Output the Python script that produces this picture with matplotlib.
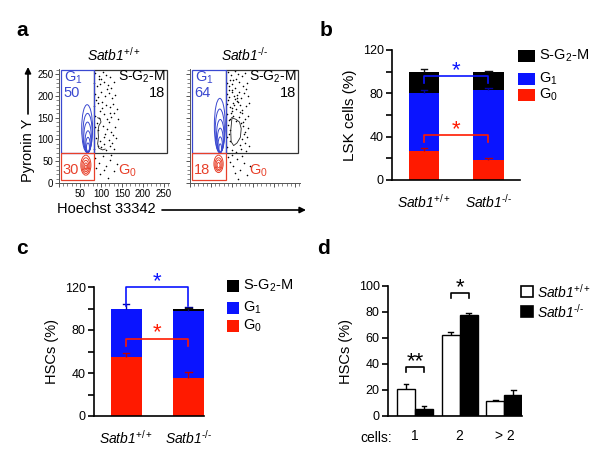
import matplotlib
matplotlib.use('Agg')
import matplotlib.pyplot as plt
from matplotlib.patches import Ellipse, Rectangle
import numpy as np

plt.rcParams['font.family'] = ['Liberation Sans', 'DejaVu Sans']
plt.rcParams['mathtext.fontset'] = 'custom'
plt.rcParams['mathtext.rm'] = 'Liberation Sans'
plt.rcParams['mathtext.it'] = 'Liberation Sans:italic'
plt.rcParams['mathtext.bf'] = 'Liberation Sans:bold'

# ------------------------------------------------------------------ data
genotypes = ['Satb1$^{\\mathit{+/+}}$', 'Satb1$^{\\mathit{\u2010/\u2010}}$']

# panel a: gate percentages per genotype
a_g1_pct = ['50', '64']
a_s_pct = ['18', '18']
a_g0_pct = ['30', '18']
# gate boundaries (Hoechst x, Pyronin y)
gate_xlo = [5, 5]
gate_xmid = [83, 86]
gate_xhi = [257, 257]
gate_ylo = [8, 8]
gate_ymid = [69, 70]
gate_yhi = [259, 259]

# contour levels (ellipses) : centre x, centre y, width, height
blue_cx = [[67, 68, 68, 69, 69, 69], [71, 71, 72, 72, 72, 72]]
blue_cy = [[125, 115, 105, 95, 88, 82], [132, 120, 108, 98, 88, 80]]
blue_w = [[26, 22, 18, 14, 10, 7], [26, 22, 18, 14, 10, 6]]
blue_h = [[110, 90, 70, 50, 34, 20], [125, 100, 76, 56, 36, 20]]
red_cx = [[64, 64, 64, 64, 64], [68, 68, 68, 68]]
red_cy = [[41, 40, 39, 38, 37], [44, 43, 42, 41]]
red_w = [[24, 19, 14, 9, 5], [22, 17, 12, 7]]
red_h = [[46, 36, 26, 16, 8], [40, 30, 22, 12]]

# black density contour traces
blk_x = [[92, 98, 100, 95, 93, 94, 92, 95, 104, 110],
         [100, 110, 118, 122, 120, 112, 104, 98, 97, 100]]
blk_y = [[150, 148, 140, 132, 120, 105, 90, 80, 76, 78],
         [150, 146, 140, 125, 105, 92, 86, 95, 120, 150]]

# individual events (read approximately)
dots_wt_x = [86, 95, 104, 112, 121, 99, 83, 90, 97, 108, 116, 125, 130,
             85, 92, 101, 110, 118, 127, 134, 88, 84, 94, 103, 112, 121, 129,
             137, 98, 86, 95, 106, 114, 123, 131, 140, 85, 93, 104, 115, 124,
             133, 109, 87, 97, 108, 118, 127, 136, 92, 84, 99, 113, 122, 131,
             86, 95, 104, 112, 121, 130, 98, 117, 108, 138, 89, 125,
             102, 119, 91, 128, 106, 114, 96, 122]
dots_wt_y = [252, 246, 255, 249, 243, 238, 230, 222, 228, 233, 226, 219, 231,
             205, 198, 210, 201, 206, 196, 203, 190, 178, 183, 172, 180, 174, 182,
             170, 165, 155, 149, 158, 146, 152, 160, 148, 128, 121, 131, 124, 118,
             129, 112, 103, 96, 106, 99, 92, 104, 86, 78, 82, 75, 84, 77,
             58, 45, 62, 38, 52, 28, 20, 12, 30, 44, 34, 65,
             187, 140, 138, 111, 90, 215, 240, 162]
dots_ko_x = [90, 98, 106, 115, 124, 95, 110, 132,
             88, 93, 101, 108, 117, 126, 134, 99,
             87, 94, 100, 107, 113, 121, 129, 137, 104, 91,
             88, 96, 103, 110, 118, 125, 133, 140, 99, 114,
             89, 95, 103, 109, 116, 124, 131, 138, 127,
             90, 96, 126, 131, 137, 93, 128,
             89, 96, 124, 130, 136, 119,
             88, 100, 110, 121, 133, 141,
             90, 96, 103, 112, 120, 128, 135, 108, 99, 124, 143, 115,
             92, 102, 111, 119, 105, 97, 122, 135, 113, 101, 94, 117]
dots_ko_y = [255, 248, 257, 250, 245, 236, 240, 252,
             230, 222, 228, 219, 232, 224, 216, 214,
             205, 197, 209, 192, 202, 196, 207, 199, 200, 190,
             182, 175, 185, 170, 179, 168, 176, 183, 166, 186,
             158, 147, 155, 143, 152, 160, 146, 155, 141,
             133, 121, 130, 118, 126, 112, 112,
             105, 97, 100, 92, 106, 88,
             82, 76, 72, 79, 74, 85,
             60, 48, 38, 55, 30, 46, 18, 22, 64, 62, 40, 10,
             213, 236, 188, 164, 180, 162, 138, 230, 196, 172, 144, 210]

# panel b : LSK cells (%)
b_g0 = [27, 18.5]
b_g1 = [53, 64.5]
b_s = [20, 17]
b_g0_err = [2.5, 2.0]
b_g1_err = [3.0, 1.5]
b_s_err = [2.5, 1.0]

# panel c : HSCs (%)
c_g0 = [55, 35]
c_g1 = [44.5, 62.5]
c_s = [0.0, 1.8]
c_g0_err = [4.0, 6.0]
c_g1_err = [4.5, 4.0]
c_s_err = [0.0, 1.5]

# panel d : HSCs (%) by number of daughter cells
cells = ['1', '2', '> 2']
d_wt = [20.5, 62, 11.5]
d_wt_err = [4.0, 3.0, 0.5]
d_ko = [5.4, 77.7, 16]
d_ko_err = [2.5, 1.5, 4.0]

# ------------------------------------------------------------------ style
BLUE = '#0a14ff'
RED = '#ff1a00'
GBLUE = '#3a48d0'
GRED = '#e8402a'

W, H = 600, 466
fig = plt.figure(figsize=(6, 4.66), dpi=100)


def add_ax(x0, y0, x1, y1, **kw):
    return fig.add_axes([x0 / W, 1 - y1 / H, (x1 - x0) / W, (y1 - y0) / H], **kw)


ov = fig.add_axes([0, 0, 1, 1], zorder=10)
ov.set_xlim(0, W)
ov.set_ylim(H, 0)
ov.axis('off')
ov.patch.set_alpha(0)

# ------------------------------------------------------------------ panel a
flow_boxes = [(59, 69, 169, 183), (190, 69, 300, 183)]
dots_x = [dots_wt_x, dots_ko_x]
dots_y = [dots_wt_y, dots_ko_y]
for i, box in enumerate(flow_boxes):
    ax = add_ax(*box)
    ax.set_xlim(0, 262)
    ax.set_ylim(0, 262)
    for s in ['top', 'right']:
        ax.spines[s].set_visible(False)
    for s in ['left', 'bottom']:
        ax.spines[s].set_color('#555555')
        ax.spines[s].set_linewidth(0.7)
    ax.set_xticks(np.arange(0, 251, 50))
    ax.set_yticks(np.arange(0, 251, 50))
    ax.set_xticks(np.arange(0, 261, 10), minor=True)
    ax.set_yticks(np.arange(0, 261, 10), minor=True)
    ax.tick_params(which='major', length=3, width=0.7, color='#555555',
                   labelsize=7, pad=1)
    ax.tick_params(which='minor', length=2, width=0.5, color='#555555')
    if i == 0:
        ax.set_xticklabels(['', '50', '100', '150', '200', '250'])
        ax.set_yticklabels(['0', '50', '100', '150', '200', '250'])
    else:
        ax.set_xticklabels([])
        ax.set_yticklabels([])
    ax.patch.set_alpha(0)

    ax.scatter(dots_x[i], dots_y[i], s=1.3, c='k', linewidths=0)
    ax.plot(blk_x[i], blk_y[i], color='#222222', lw=0.6)
    for cx, cy, w, h in zip(blue_cx[i], blue_cy[i], blue_w[i], blue_h[i]):
        ax.add_patch(Ellipse((cx, cy), w, h, fill=False, ec=GBLUE, lw=0.7))
    for cx, cy, w, h in zip(red_cx[i], red_cy[i], red_w[i], red_h[i]):
        ax.add_patch(Ellipse((cx, cy), w, h, fill=False, ec=GRED, lw=0.7))

    x0, xm, x1 = gate_xlo[i], gate_xmid[i], gate_xhi[i]
    y0, ym, y1 = gate_ylo[i], gate_ymid[i], gate_yhi[i]
    ax.add_patch(Rectangle((xm, ym), x1 - xm, y1 - ym, fill=False,
                           ec='#333333', lw=0.9))
    ax.add_patch(Rectangle((x0, ym), xm - x0, y1 - ym, fill=False,
                           ec=GBLUE, lw=0.9))
    ax.add_patch(Rectangle((x0, y0), xm - x0, ym - y0, fill=False,
                           ec=GRED, lw=0.9))

    ax.text(x0 + 6, 241, 'G$_1$', color=GBLUE, fontsize=10.5, va='center')
    ax.text(x0 + 6, 206, a_g1_pct[i], color=GBLUE, fontsize=10.5, va='center')
    ax.text(x1 - 4, 243, 'S-G$_2$-M', color='k', fontsize=10, va='center',
            ha='right')
    ax.text(x1 - 4, 206, a_s_pct[i], color='k', fontsize=10.5, va='center',
            ha='right')
    ax.text(x0 + 4, 29, a_g0_pct[i], color=GRED, fontsize=10.5, va='center')
    ax.text(140, 27, 'G$_0$', color=GRED, fontsize=10.5, va='center')
    ax.set_title(genotypes[i], style='italic', fontsize=10, pad=6)

ov.text(28, 150, 'Pyronin Y', rotation=90, fontsize=10.5, ha='center',
        va='center')
ov.annotate('', xy=(28, 67), xytext=(28, 114),
            arrowprops=dict(arrowstyle='-|>', color='k', lw=1.2,
                            mutation_scale=9, shrinkA=0, shrinkB=0))
ov.text(106, 209, 'Hoechst 33342', fontsize=10.5, ha='center', va='center')
ov.annotate('', xy=(306, 210), xytext=(162, 210),
            arrowprops=dict(arrowstyle='-|>', color='k', lw=1.2,
                            mutation_scale=9, shrinkA=0, shrinkB=0))


# ------------------------------------------------------------------ helpers
def style_bar_ax(ax):
    for s in ['top', 'right']:
        ax.spines[s].set_visible(False)
    for s in ['left', 'bottom']:
        ax.spines[s].set_linewidth(1.2)
    ax.tick_params(axis='y', length=4, width=1.2, labelsize=9, pad=2)
    ax.tick_params(axis='x', length=0, labelsize=10, pad=9)
    ax.patch.set_alpha(0)


def err_up(ax, x, y, e, color, capw=0.05, lw=1.0):
    if e <= 0:
        return
    ax.plot([x, x], [y, y + e], color=color, lw=lw, solid_capstyle='butt')
    ax.plot([x - capw, x + capw], [y + e, y + e], color=color, lw=lw)


def bracket(ax, xa, xb, ytop, ylow, color, star, sy, fs=16):
    ax.plot([xa, xa, xb, xb], [ylow, ytop, ytop, ylow], color=color, lw=1.2,
            clip_on=False)
    ax.text((xa + xb) / 2, sy, star, color=color, fontsize=fs, ha='center',
            va='center', clip_on=False)


def stacked(ax, g0, g1, s, e0, e1, es, width):
    x = np.arange(len(g0))
    g0 = np.array(g0)
    g1 = np.array(g1)
    s = np.array(s)
    ax.bar(x, g0, width, color=RED, lw=0)
    ax.bar(x, g1, width, bottom=g0, color=BLUE, lw=0)
    ax.bar(x, s, width, bottom=g0 + g1, color='k', lw=0)
    for k in range(len(x)):
        err_up(ax, x[k], g0[k], e0[k], '#c00000')
        err_up(ax, x[k], g0[k] + g1[k], e1[k], '#0000a0')
        err_up(ax, x[k], g0[k] + g1[k] + s[k], es[k], '#111111')


def legend_stack(x0, ys, sw, sh, fs):
    labels = ['S-G$_2$-M', 'G$_1$', 'G$_0$']
    colors = ['k', BLUE, RED]
    for yc, lab, col in zip(ys, labels, colors):
        ov.add_patch(Rectangle((x0, yc - sh / 2), sw, sh, color=col, lw=0))
        ov.text(x0 + sw + 4, yc, lab, fontsize=fs, va='center')


# ------------------------------------------------------------------ panel b
axb = add_ax(392, 50, 520, 180)
axb.set_xlim(-0.5, 1.49)
axb.set_ylim(0, 120)
stacked(axb, b_g0, b_g1, b_s, b_g0_err, b_g1_err, b_s_err, 0.47)
style_bar_ax(axb)
axb.set_yticks(np.arange(0, 121, 20))
axb.set_yticklabels(['0', '', '40', '', '80', '', '120'])
axb.set_xticks([0, 1])
axb.set_xticklabels(genotypes, style='italic')
axb.set_ylabel('LSK cells (%)', fontsize=11, labelpad=4)
bracket(axb, 0, 1, 96, 89.5, BLUE, '*', 100.5)
bracket(axb, 0, 1, 41.5, 35.5, RED, '*', 46)
legend_stack(518, [56, 78.5, 95], 17, 12, 10.5)

# ------------------------------------------------------------------ panel c
axc = add_ax(94, 287, 204, 416)
axc.set_xlim(-0.52, 1.25)
axc.set_ylim(0, 120)
stacked(axc, c_g0, c_g1, c_s, c_g0_err, c_g1_err, c_s_err, 0.5)
style_bar_ax(axc)
axc.set_yticks(np.arange(0, 121, 20))
axc.set_yticklabels(['0', '', '40', '', '80', '', '120'])
axc.set_xticks([0, 1])
axc.set_xticklabels(genotypes, style='italic')
axc.set_ylabel('HSCs (%)', fontsize=10.5, labelpad=4)
bracket(axc, 0, 1, 120, 102, BLUE, '*', 125)
bracket(axc, 0, 1, 72, 65.5, RED, '*', 77.5)
legend_stack(227, [286, 308, 326], 12, 12, 10.5)

# ------------------------------------------------------------------ panel d
axd = add_ax(388, 286, 522.3, 416)
axd.set_xlim(-0.6, 2.4)
axd.set_ylim(0, 100)
xg = np.arange(len(cells))
bw = 0.4
axd.bar(xg - bw / 2, d_wt, bw, color='white', edgecolor='k', lw=1.0)
axd.bar(xg + bw / 2, d_ko, bw, color='k', edgecolor='k', lw=1.0)
for k in range(len(xg)):
    err_up(axd, xg[k] - bw / 2, d_wt[k], d_wt_err[k], 'k', capw=0.05)
    err_up(axd, xg[k] + bw / 2, d_ko[k], d_ko_err[k], 'k', capw=0.05)
style_bar_ax(axd)
axd.set_yticks(np.arange(0, 101, 20))
axd.set_xticks(xg)
axd.set_xticklabels(cells)
axd.text(-0.87, -0.17, 'cells:', transform=axd.get_xaxis_transform(),
         fontsize=10, ha='center', va='center')
axd.set_ylabel('HSCs (%)', fontsize=10.5, labelpad=4)
bracket(axd, -0.2, 0.2, 37.4, 34, 'k', '**', 41.5)
bracket(axd, 0.8, 1.2, 94.4, 90.8, 'k', '*', 98.5)
ov.add_patch(Rectangle((521, 286), 12, 11, facecolor='white', edgecolor='k',
                       lw=1.2))
ov.add_patch(Rectangle((521, 306), 12, 11, facecolor='k', edgecolor='k',
                       lw=1.2))
ov.text(537, 291.5, genotypes[0], style='italic', fontsize=10, va='center')
ov.text(537, 311.5, genotypes[1], style='italic', fontsize=10, va='center')

# ------------------------------------------------------------------ panel labels
for lab, (px, py) in zip('abcd', [(22, 31), (326, 30), (22, 248), (323, 248)]):
    ov.text(px, py, lab, fontsize=15, fontweight='bold', ha='center',
            va='center')

fig.savefig('out.png', dpi=100)
